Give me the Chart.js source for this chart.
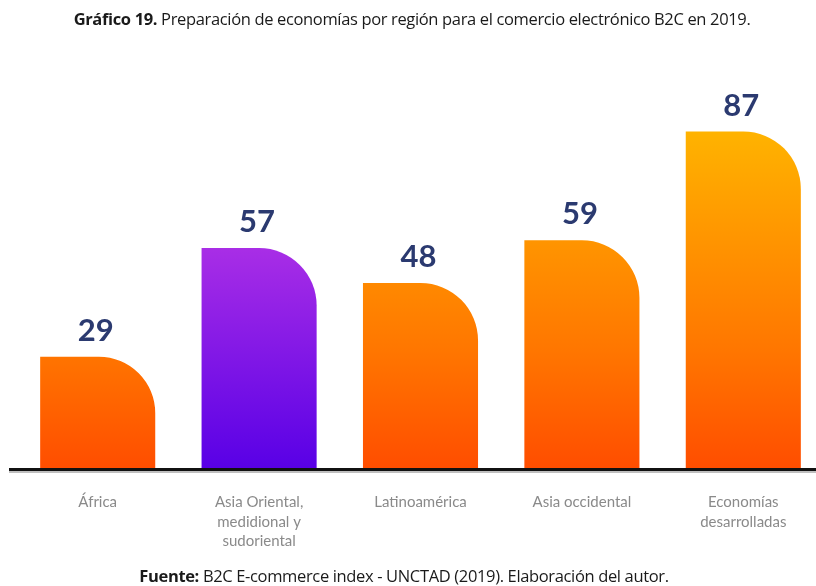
<!DOCTYPE html>
<html lang="es">
<head>
<meta charset="utf-8">
<title>Gráfico 19</title>
<script src="https://cdn.jsdelivr.net/npm/chart.js@4.4.1/dist/chart.umd.min.js"></script>
<style>
    html, body {
        margin: 0;
        padding: 0;
        width: 816px;
        height: 586px;
        overflow: hidden;
        background: #ffffff;
    }
    .wrap {
        position: relative;
        width: 816px;
        height: 586px;
    }
    .chart-box {
        position: absolute;
        left: 0;
        top: 0;
        width: 824px;
        height: 586px;
    }
    .caption {
        position: absolute;
        left: 0;
        width: 816px;
        text-align: center;
        font-family: "Open Sans", "Liberation Sans", sans-serif;
        font-size: 16.5px;
        color: #1a1a1a;
        letter-spacing: -0.35px;
        white-space: nowrap;
    }
    .caption b { font-weight: 700; }
    #title { top: 7px; left: 4px; }
    #source { top: 564px; left: -4px; }
</style>
</head>
<body>
<div class="wrap">
    <div class="chart-box"><canvas id="b2cChart" width="824" height="586"></canvas></div>
    <div class="caption" id="title"><b>Gráfico 19.</b> Preparación de economías por región para el comercio electrónico B2C en 2019.</div>
    <div class="caption" id="source"><b>Fuente:</b> B2C E-commerce index - UNCTAD (2019). Elaboración del autor.</div>
</div>
<script>
const regions = [
    'África',
    ['Asia Oriental,', 'medidional y', 'sudoriental'],
    'Latinoamérica',
    'Asia occidental',
    ['Economías', 'desarrolladas']
];
const indexValues = [29, 57, 48, 59, 87];
const yTicks = [0, 100];

document.addEventListener('DOMContentLoaded', function() {
    const navy = '#2b3a70';

    // orange bars share one vertical gradient over the plot area, the purple one has its own
    function barFill(context) {
        const chart = context.chart;
        const area = chart.chartArea;
        if (!area) return '#ff6a00';
        const ctx = chart.ctx;
        if (context.dataIndex === 1) {
            const g = ctx.createLinearGradient(0, area.top + 165, 0, area.bottom);
            g.addColorStop(0, '#a92ee6');
            g.addColorStop(1, '#5800e6');
            return g;
        }
        const g = ctx.createLinearGradient(0, area.top + 50, 0, area.bottom);
        g.addColorStop(0, '#ffb300');
        g.addColorStop(0.35, '#ff9200');
        g.addColorStop(0.65, '#ff7600');
        g.addColorStop(1, '#ff4d00');
        return g;
    }

    // value numbers above the bars + the thick base line
    const barExtras = {
        id: 'barExtras',
        afterDatasetsDraw(chart) {
            const ctx = chart.ctx;
            const meta = chart.getDatasetMeta(0);
            const yScale = chart.scales.y;
            const baseY = yScale.getPixelForValue(0);

            ctx.save();
            ctx.strokeStyle = 'rgba(0,0,0,0.25)';
            ctx.lineWidth = 5;
            ctx.beginPath();
            ctx.moveTo(9, baseY + 1);
            ctx.lineTo(chart.width, baseY + 1);
            ctx.stroke();
            ctx.strokeStyle = '#111111';
            ctx.lineWidth = 3;
            ctx.beginPath();
            ctx.moveTo(9, baseY);
            ctx.lineTo(chart.width, baseY);
            ctx.stroke();

            ctx.fillStyle = navy;
            ctx.font = 'bold 31px Lato, "Noto Sans", sans-serif';
            ctx.textAlign = 'center';
            ctx.textBaseline = 'alphabetic';
            meta.data.forEach(function(bar, i) {
                ctx.fillText(String(indexValues[i]), bar.x - 2, bar.y - 16);
            });
            ctx.restore();
        }
    };

    const ctx = document.getElementById('b2cChart').getContext('2d');
    new Chart(ctx, {
        type: 'bar',
        data: {
            labels: regions,
            datasets: [{
                label: 'Índice B2C',
                data: indexValues,
                backgroundColor: barFill,
                borderWidth: 0,
                borderSkipped: 'start',
                borderRadius: { topLeft: 0, topRight: 60, bottomLeft: 0, bottomRight: 0 },
                barPercentage: 0.713,
                categoryPercentage: 1
            }]
        },
        options: {
            responsive: false,
            animation: false,
            layout: {
                padding: { top: 81, left: 17, right: 0, bottom: 12 }
            },
            plugins: {
                legend: { display: false },
                title: { display: false },
                tooltip: { enabled: false }
            },
            scales: {
                x: {
                    grid: { display: false, drawTicks: false },
                    border: { display: false },
                    ticks: {
                        color: '#8a8a8a',
                        padding: 23,
                        maxRotation: 0,
                        autoSkip: false,
                        font: { family: 'Lato, "Noto Sans", sans-serif', size: 15, lineHeight: 1.3 }
                    }
                },
                y: {
                    display: false,
                    min: yTicks[0],
                    max: yTicks[1]
                }
            }
        },
        plugins: [barExtras]
    });
});
</script>
</body>
</html>
